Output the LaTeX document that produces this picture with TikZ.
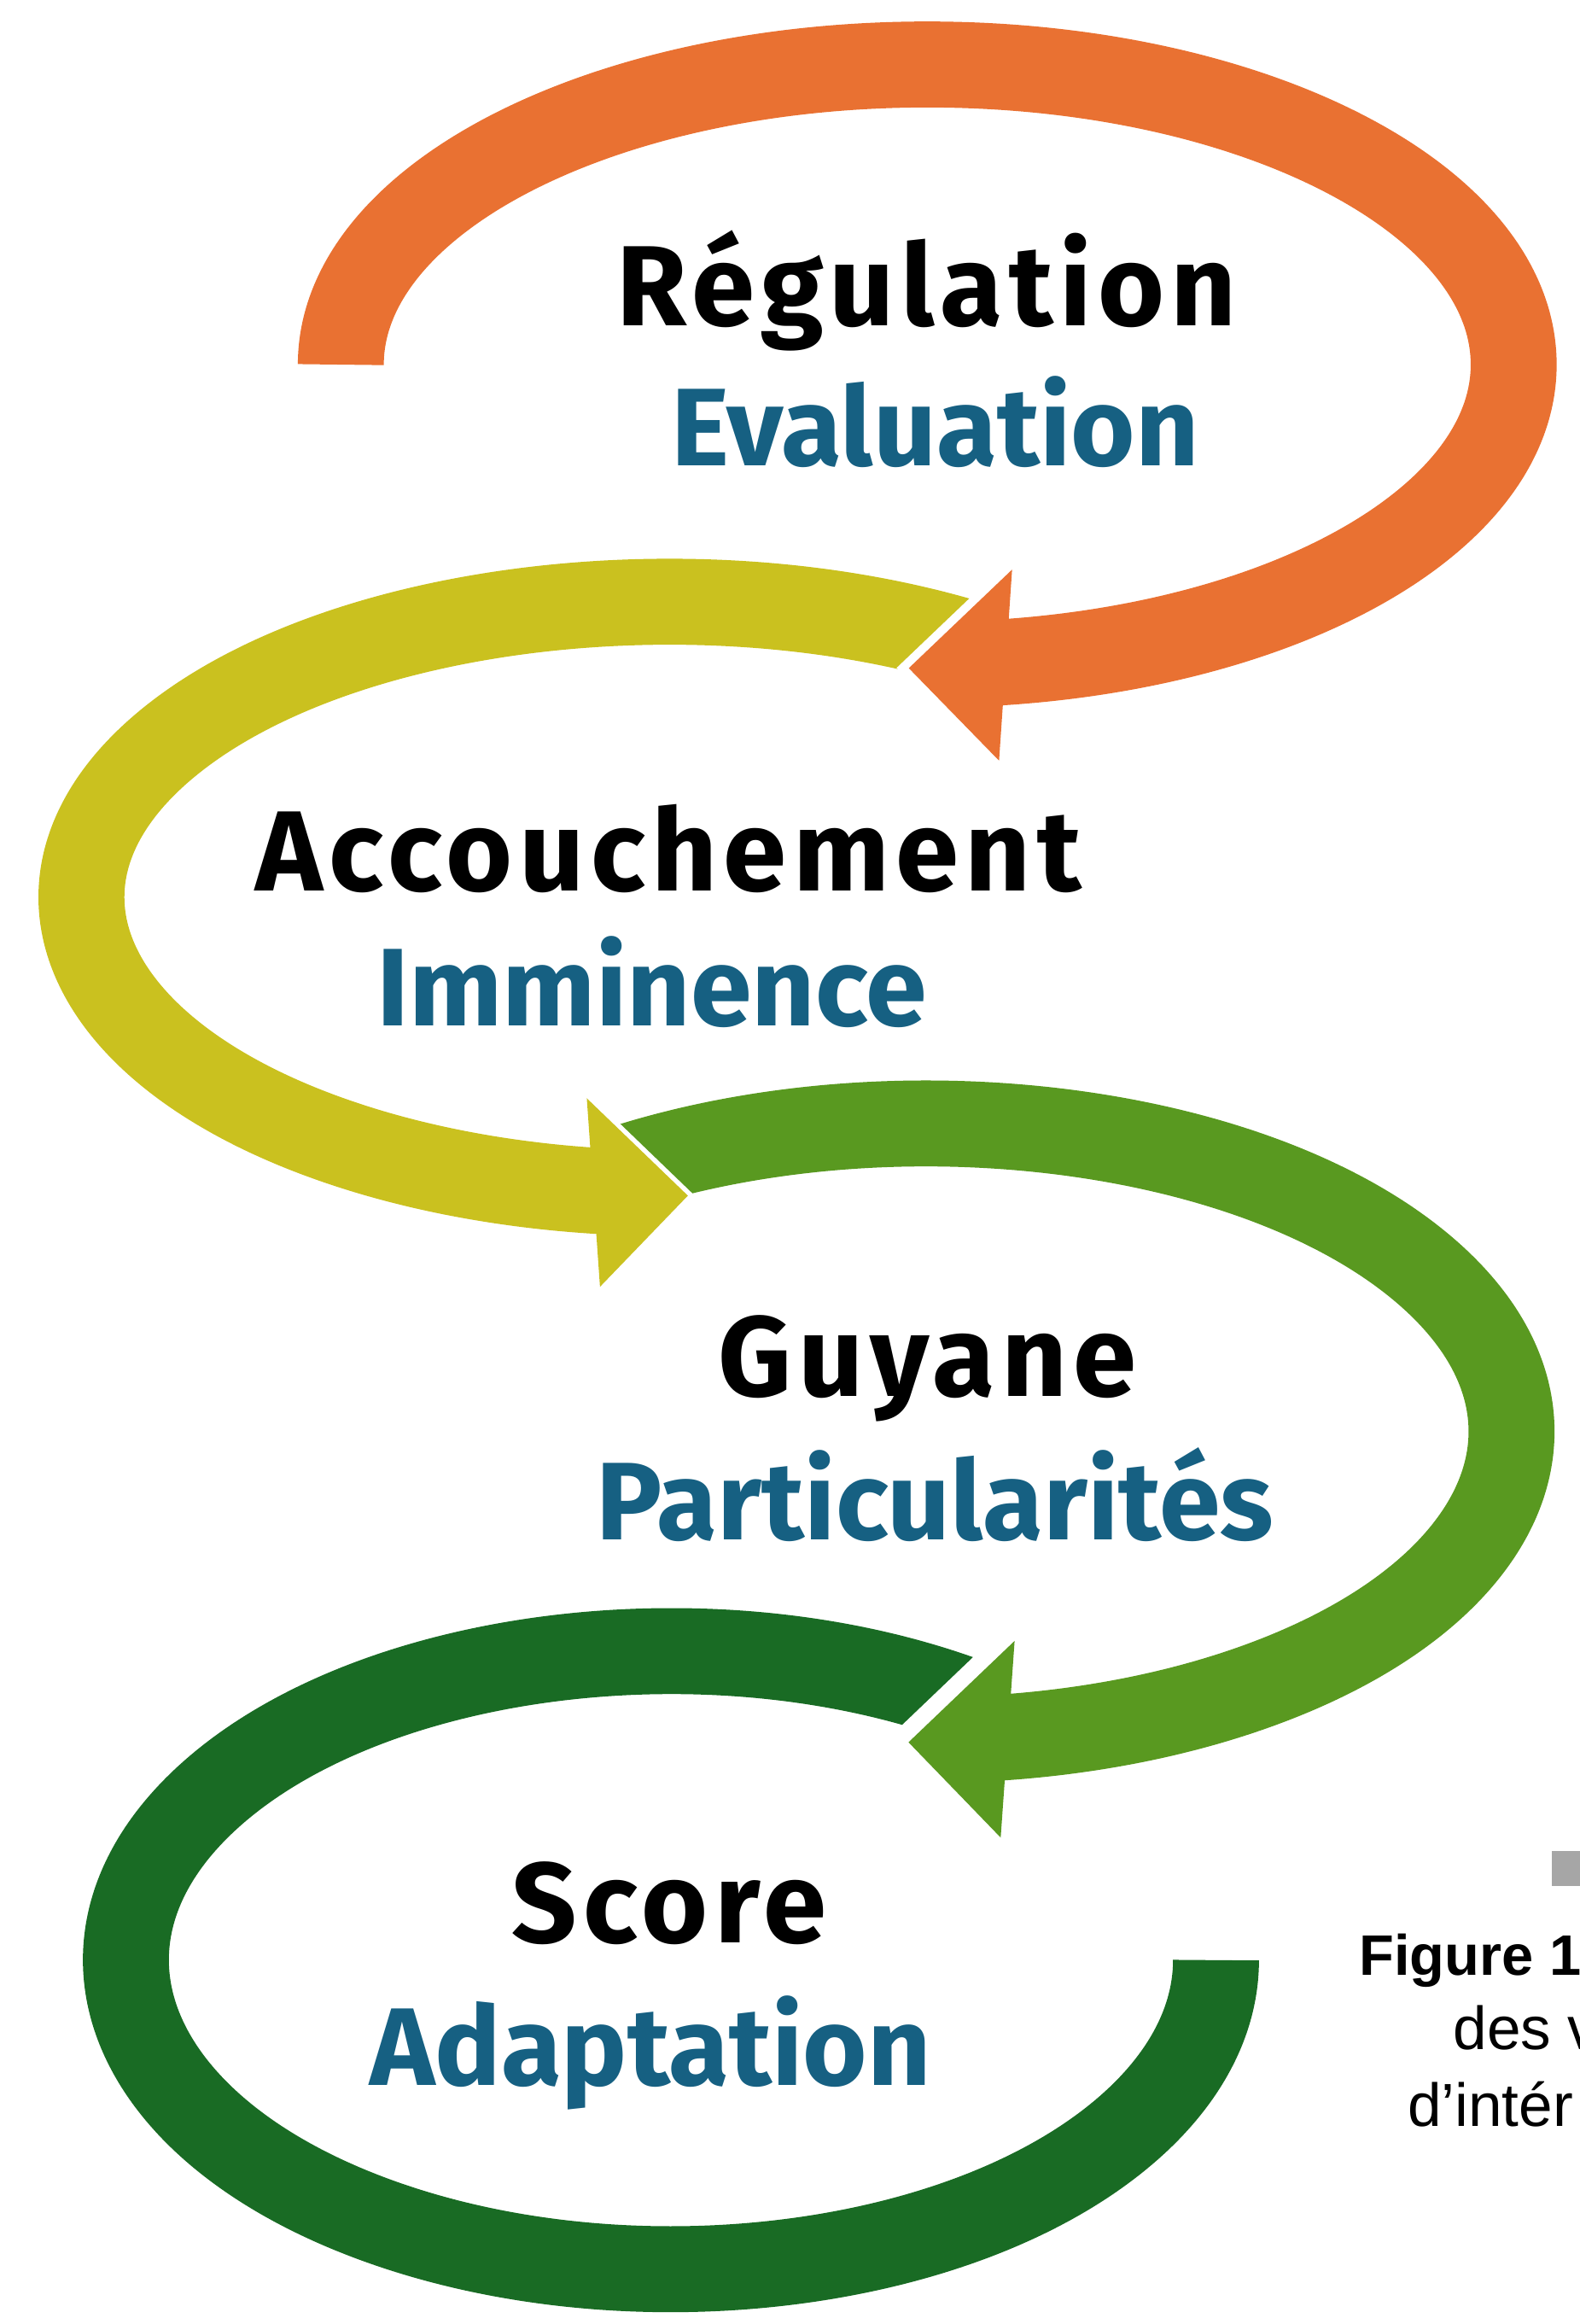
\documentclass[tikz,border=0pt]{standalone}
\usepackage{fontspec}
\usepackage{tikz}
\setmainfont{Liberation Sans}
\newfontfamily\labelfont{Fira Sans}
\newfontfamily\titlefont{Fira Sans}[LetterSpace=5.5]
\definecolor{regorange}{RGB}{233,113,50}
\definecolor{accyellow}{RGB}{202,193,31}
\definecolor{guygreen}{RGB}{89,153,32}
\definecolor{scogreen}{RGB}{25,107,36}
\definecolor{subblue}{RGB}{22,96,130}
\definecolor{capgrey}{RGB}{166,166,166}

\begin{document}
\begin{tikzpicture}[x=1pt,y=-1pt,
    band/.style={line width=58pt},
    halo/.style={white,line join=miter},
    word/.style={inner sep=0pt,anchor=base,font=\titlefont\bfseries\fontsize{77}{80}\selectfont},
    subword/.style={word,text=subblue,font=\labelfont\bfseries\fontsize{74.5}{80}\selectfont},
    capline/.style={inner sep=0pt,anchor=base west,font=\fontsize{41}{48}\selectfont}]
    \useasboundingbox (0,0) rectangle (1066,1568);

    % centres of the four loops
    \coordinate (cReg) at (625.75,246);
    \coordinate (cAcc) at (451.5,605.5);
    \coordinate (cGuy) at (625.2,966);
    \coordinate (cSco) at (452.8,1322.5);

    % loops
    \draw[band,scogreen] (cSco) ++(-57:367.8 and 208.5)
        arc[start angle=-57,end angle=-360,x radius=367.8,y radius=208.5];
    \draw[band,guygreen] (cGuy) ++(238:394.8 and 208)
        arc[start angle=238,end angle=444,x radius=394.8,y radius=208];
    \draw[band,accyellow] (cAcc) ++(-58:396.5 and 199.5)
        arc[start angle=-58,end angle=-265,x radius=396.5,y radius=199.5];
    \draw[band,regorange] (cReg) ++(180:395.75 and 202.5)
        arc[start angle=180,end angle=444,x radius=395.75,y radius=202.5];

    % arrow heads
    \coordinate (regTip) at (613.3,450.8);
    \coordinate (regTop) at (683.0,384.3);
    \coordinate (regBot) at (674.2,513.2);
    \draw[halo,line width=11.6pt] (regTop) -- (regTip) -- (regBot);
    \fill[regorange] (regTip) -- (regTop) -- (regBot) -- cycle;

    \coordinate (accTip) at (464.2,806.7);
    \coordinate (accTop) at (396.0,741.0);
    \coordinate (accBot) at (404.9,868.2);
    \draw[halo,line width=6.4pt] (accTop) -- (accTip) -- (accBot);
    \fill[accyellow] (accTip) -- (accTop) -- (accBot) -- cycle;

    \coordinate (guyTip) at (613.1,1175.5);
    \coordinate (guyTop) at (684.7,1107.1);
    \coordinate (guyBot) at (675.3,1239.8);
    \draw[halo,line width=22.8pt] (guyTop) -- (guyTip) -- (guyBot);
    \fill[guygreen] (guyTip) -- (guyTop) -- (guyBot) -- cycle;

    % labels
    \node[word] (regT) at (625.5,220) {Régulation};
    \node[subword] (regS) at (631,314) {Evaluation};
    \node[word] (accT) at (451,601) {Accouchement};
    \node[subword] (accS) at (440,692) {Imminence};
    \node[word] (guyT) at (626,942) {Guyane};
    \node[subword] (guyS) at (631,1039) {Particularités};
    \node[word] (scoT) at (451.5,1311) {Score};
    \node[subword] (scoS) at (439,1407) {Adaptation};

    % caption, cut by the page edge
    \fill[capgrey] (1047.4,1249) rectangle (1070,1272.4);
    \node[capline,font=\bfseries\fontsize{38.5}{46}\selectfont] (capA) at (917,1332.6) {Figure 1};
    \node[capline] (capB) at (980.5,1383) {des v};
    \node[capline] (capC) at (949.7,1434.8) {d’intér};
\end{tikzpicture}
\end{document}
